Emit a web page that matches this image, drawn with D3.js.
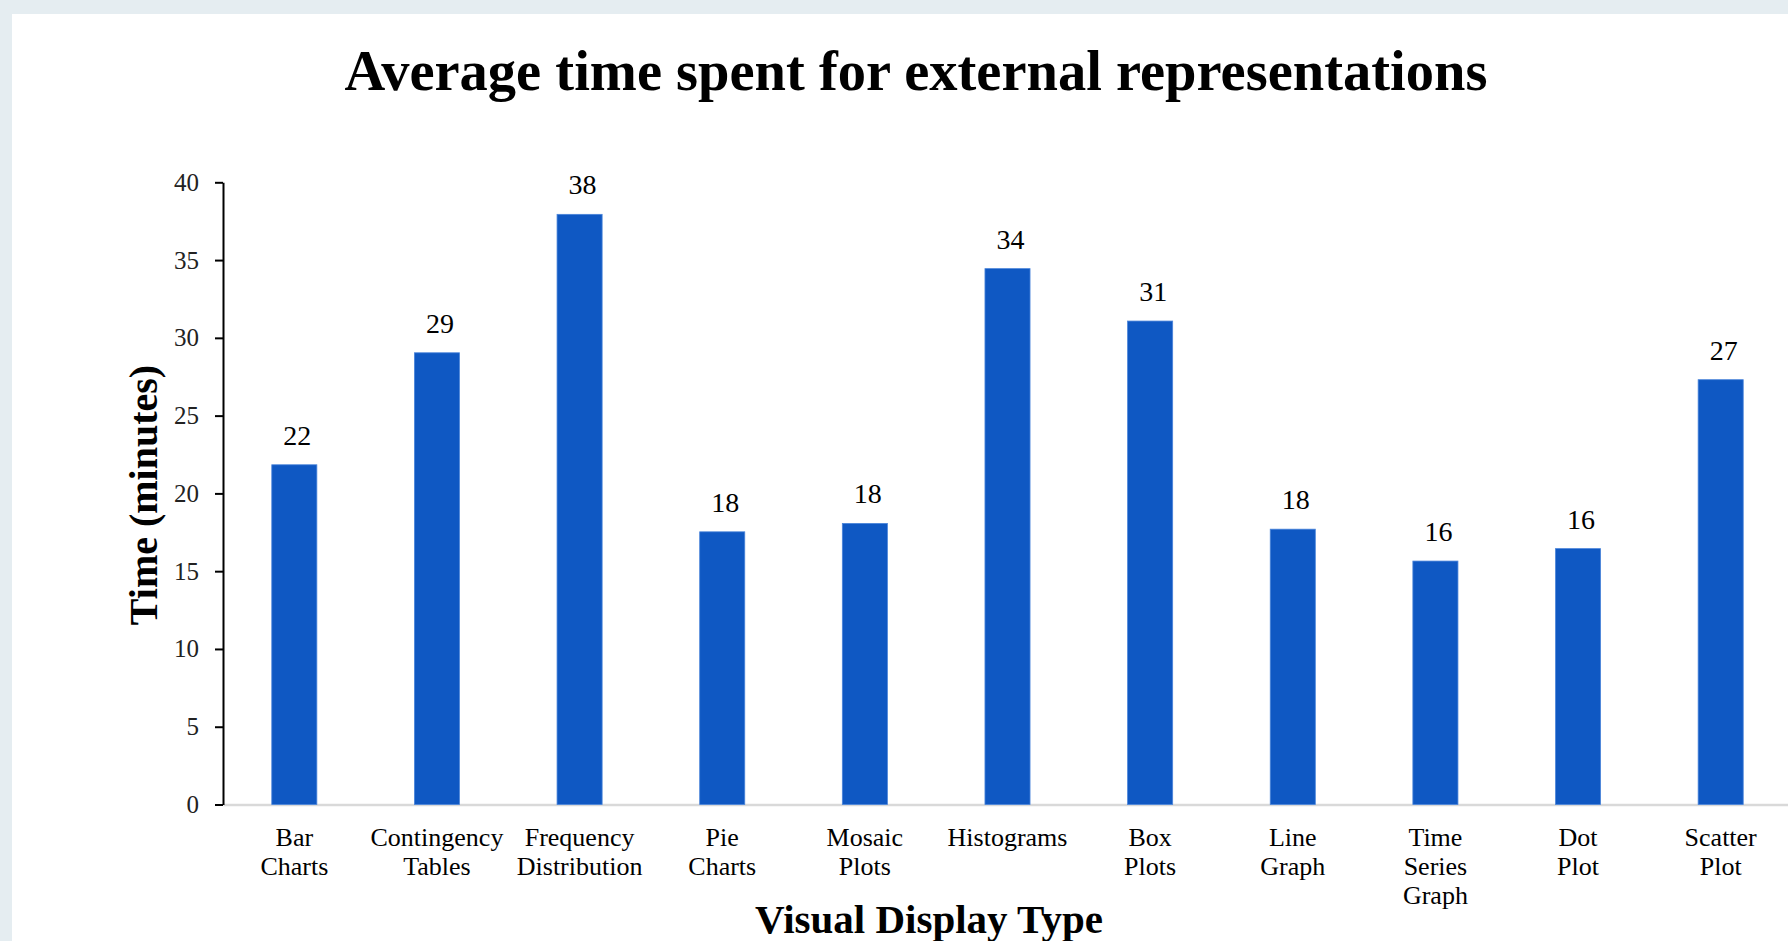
<!DOCTYPE html>
<html>
<head>
<meta charset="utf-8">
<script src="https://cdn.jsdelivr.net/npm/d3@7"></script>
<style>
  html, body { margin: 0; padding: 0; background: #e5edf1; }
  svg { display: block; }
</style>
</head>
<body>
<svg id="chart" width="1788" height="941"></svg>
<script>
// ---- data ----
const categories = ["Bar Charts", "Contingency Tables", "Frequency Distribution", "Pie Charts",
  "Mosaic Plots", "Histograms", "Box Plots", "Line Graph", "Time Series Graph", "Dot Plot", "Scatter Plot"];
const values = [21.84, 29.04, 37.94, 17.53, 18.07, 34.45, 31.08, 17.7, 15.65, 16.45, 27.31];
const valueLabels = ["22", "29", "38", "18", "18", "34", "31", "18", "16", "16", "27"];
const yTicks = [0, 5, 10, 15, 20, 25, 30, 35, 40];
const titleText = "Average time spent for external representations";
const yTitle = "Time (minutes)";
const xTitle = "Visual Display Type";

// ---- layout ----
const W = 1788, H = 941;
const plotLeft = 223, plotRight = 1792, plotTop = 182.3, plotBottom = 804.5;
const serif = "'Liberation Serif', 'Times New Roman', serif";

const svg = d3.select("#chart");

// panel
svg.append("rect").attr("x", 12).attr("y", 14).attr("width", W - 12).attr("height", H - 14).attr("fill", "#ffffff");

const x = d3.scaleBand().domain(categories).range([plotLeft, plotRight]).paddingInner(0.684).paddingOuter(0.342);
const y = d3.scaleLinear().domain([0, 40]).range([plotBottom, plotTop]);

// title
svg.append("text")
  .attr("x", 916).attr("y", 90)
  .attr("text-anchor", "middle")
  .attr("font-family", serif).attr("font-weight", "bold").attr("font-size", 56.5)
  .attr("fill", "#000")
  .text(titleText);

// x axis (gray baseline, labels)
const xAxis = svg.append("g")
  .attr("transform", `translate(0,${plotBottom})`)
  .call(d3.axisBottom(x).tickSize(0).tickSizeOuter(0).tickFormat(""));
xAxis.select(".domain").attr("stroke", "#d9d9d9").attr("stroke-width", 2.5);

xAxis.selectAll(".tick").each(function(d) {
  const t = d3.select(this).append("text")
    .attr("fill", "#000")
    .attr("font-family", serif).attr("font-size", 26)
    .attr("text-anchor", "middle")
    .attr("y", 41);
  d.split(" ").forEach((w, i) => {
    t.append("tspan").attr("x", 0).attr("dy", i === 0 ? 0 : 29.3).text(w);
  });
});

// bars
svg.append("g").selectAll("rect")
  .data(categories)
  .join("rect")
  .attr("x", d => x(d))
  .attr("width", x.bandwidth())
  .attr("y", (d, i) => y(values[i]))
  .attr("height", (d, i) => y(0) - y(values[i]))
  .attr("fill", "#0f58c3")
  .attr("stroke", "#4a84da")
  .attr("stroke-width", 0.8);

// value labels
svg.append("g").selectAll("text")
  .data(categories)
  .join("text")
  .attr("x", d => x(d) + x.bandwidth() / 2 + 3)
  .attr("y", (d, i) => y(values[i]) - 20)
  .attr("text-anchor", "middle")
  .attr("font-family", serif).attr("font-size", 28)
  .attr("fill", "#000")
  .text((d, i) => valueLabels[i]);

// y axis
const yAxis = svg.append("g")
  .attr("transform", `translate(${plotLeft},0)`)
  .call(d3.axisLeft(y).tickValues(yTicks).tickSize(8).tickSizeOuter(0).tickPadding(16));
yAxis.select(".domain").attr("stroke", "#000").attr("stroke-width", 2);
yAxis.selectAll(".tick line").attr("stroke", "#000").attr("stroke-width", 2);
yAxis.selectAll(".tick text")
  .attr("font-family", serif).attr("font-size", 25).attr("fill", "#222");

// axis titles
svg.append("text")
  .attr("transform", "translate(157,495) rotate(-90)")
  .attr("text-anchor", "middle")
  .attr("font-family", serif).attr("font-weight", "bold").attr("font-size", 40)
  .attr("fill", "#000")
  .text(yTitle);

svg.append("text")
  .attr("x", 929).attr("y", 933)
  .attr("text-anchor", "middle")
  .attr("font-family", serif).attr("font-weight", "bold").attr("font-size", 41)
  .attr("fill", "#000")
  .text(xTitle);
</script>
</body>
</html>
